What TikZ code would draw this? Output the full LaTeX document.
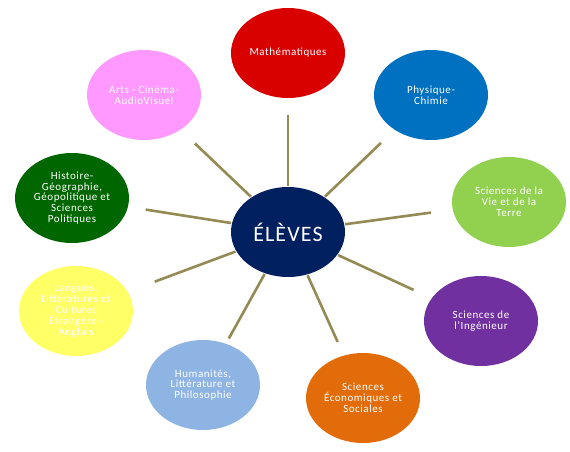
\documentclass[tikz,border=0pt]{standalone}
\usepackage{fontspec}
\setmainfont{Carlito}[LetterSpace=5]
\newfontfamily\centerfont{Carlito}[LetterSpace=5]
\usetikzlibrary{shapes.geometric}
\definecolor{cmath}{RGB}{217,0,0}
\definecolor{cphys}{RGB}{0,112,192}
\definecolor{csvt}{RGB}{146,208,80}
\definecolor{csi}{RGB}{112,48,160}
\definecolor{cses}{RGB}{227,108,10}
\definecolor{chlp}{RGB}{142,180,227}
\definecolor{cllce}{RGB}{255,255,102}
\definecolor{chg}{RGB}{0,102,0}
\definecolor{carts}{RGB}{255,153,255}
\definecolor{ccenter}{RGB}{0,32,96}
\definecolor{cspoke}{RGB}{148,138,84}
\begin{document}
\begin{tikzpicture}[x=1pt,y=-1pt,
  bubble/.style={ellipse, minimum width=114pt, minimum height=90pt, inner sep=0pt, outer sep=0pt,
    text=white, align=center, font=\fontsize{11}{10.8}\selectfont},
  spoke/.style={draw=cspoke, line width=2.6pt, shorten <=1pt}]
\useasboundingbox[fill=white] (0,0) rectangle (570,452);
\node[bubble, fill=ccenter, font=\centerfont\fontsize{22}{24}\selectfont] (c) at (288,232) {ÉLÈVES};
\node[bubble, fill=cmath] (m) at (288,53) {Mathématiques};
\node[bubble, fill=cphys] (p) at (431,95) {Physique-\\Chimie};
\node[bubble, fill=csvt] (s) at (509,202) {Sciences de la\\Vie et de la\\Terre};
\node[bubble, fill=csi] (i) at (481,321) {Sciences de\\l'Ingénieur};
\node[bubble, fill=cses] (e) at (363,398) {Sciences\\Économiques et\\Sociales};
\node[bubble, fill=chlp] (h) at (203,385) {Humanités,\\Littérature et\\Philosophie};
\node[bubble, fill=cllce] (l) at (76,311) {Langues,\\Littératures et\\Cultures\\Étrangère -\\Anglais};
\node[bubble, fill=chg] (g) at (72,198) {Histoire-\\Géographie,\\Géopolitique et\\Sciences\\Politiques};
\node[bubble, fill=carts] (a) at (144,95) {Arts - Cinéma-\\AudioVisuel};
\draw[spoke, shorten >=17pt] (c) -- (m);
\draw[spoke, shorten >=19pt] (c) -- (p);
\draw[spoke, shorten >=22pt] (c) -- (s);
\draw[spoke, shorten >=20pt] (c) -- (i);
\draw[spoke, shorten >=15pt] (c) -- (e);
\draw[spoke, shorten >=6pt] (c) -- (h);
\draw[spoke, shorten >=29pt] (c) -- (l);
\draw[spoke, shorten >=18pt] (c) -- (g);
\draw[spoke, shorten >=20pt] (c) -- (a);
\end{tikzpicture}
\end{document}
